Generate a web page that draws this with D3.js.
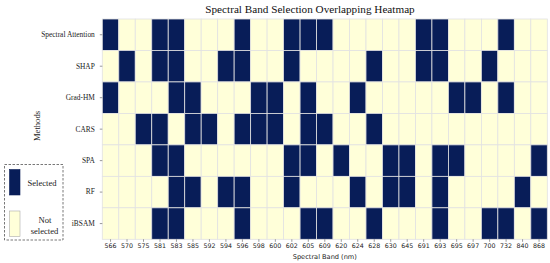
<!DOCTYPE html>
<html>
<head>
<meta charset="utf-8">
<script src="https://cdn.jsdelivr.net/npm/d3@7"></script>
<style>
  html, body { margin: 0; padding: 0; background: #ffffff; }
  svg { display: block; }
</style>
</head>
<body>
<svg id="chart" width="550" height="263"></svg>
<script>
// ---- Data ----
const methods = ["Spectral Attention", "SHAP", "Grad-HM", "CARS", "SPA", "RF", "iBSAM"];
const bands = ["566","570","575","581","583","585","592","594","596","598","600","602","605","609",
               "620","624","628","630","645","691","693","695","697","700","732","840","868"];
const selSpectralAttention = ["566","581","583","596","602","605","609","691","693","732"];
const selSHAP = ["570","581","583","594","596","602","628","691","693","700"];
const selGradHM = ["566","583","585","598","600","605","624","695","697","732"];
const selCARS = ["575","581","585","592","596","598","600","605","609","628"];
const selSPA = ["581","583","602","605","620","630","645","693","695","868"];
const selRF = ["583","585","594","596","602","624","630","645","693","840"];
const selIBSAM = ["581","583","596","605","609","628","693","700","732","868"];
const selections = [selSpectralAttention, selSHAP, selGradHM, selCARS, selSPA, selRF, selIBSAM];
const legendLabels = [["Selected"], ["Not", "selected"]];

// ---- Layout ----
const svg = d3.select("#chart");
const mLeft = 102.3, mRight = 547.3, mTop = 19, mBottom = 239.3;

const x = d3.scaleBand().domain(bands).range([mLeft, mRight]).padding(0);
const y = d3.scaleBand().domain(methods).range([mTop, mBottom]).padding(0);
const color = d3.scaleOrdinal().domain([1, 0]).range(["#081d58", "#ffffd9"]);

const cells = [];
methods.forEach((m, i) => {
  const s = new Set(selections[i]);
  bands.forEach(b => cells.push({ m, b, v: s.has(b) ? 1 : 0 }));
});

svg.append("g").selectAll("rect").data(cells).join("rect")
  .attr("x", d => x(d.b))
  .attr("y", d => y(d.m))
  .attr("width", x.bandwidth())
  .attr("height", y.bandwidth())
  .attr("fill", d => color(d.v))
  .attr("stroke", "#e2e2e2")
  .attr("stroke-width", 0.8);

// Title
svg.append("text")
  .attr("x", 310).attr("y", 13)
  .attr("text-anchor", "middle")
  .attr("font-family", "Liberation Serif, Times New Roman, serif")
  .attr("font-size", 11.2)
  .attr("fill", "#111")
  .text("Spectral Band Selection Overlapping Heatmap");

// X axis
const xAxis = svg.append("g")
  .attr("transform", `translate(0,${mBottom})`)
  .call(d3.axisBottom(x).tickSize(2.5).tickPadding(2));
xAxis.select(".domain").remove();
xAxis.selectAll(".tick line").attr("stroke", "#555").attr("stroke-width", 0.6);
xAxis.selectAll(".tick text")
  .attr("font-family", "DejaVu Sans, sans-serif")
  .attr("font-size", 6.3)
  .attr("fill", "#222");

svg.append("text")
  .attr("x", (mLeft + mRight) / 2).attr("y", 258.5)
  .attr("text-anchor", "middle")
  .attr("font-family", "DejaVu Sans, sans-serif")
  .attr("font-size", 6.6)
  .attr("fill", "#222")
  .text("Spectral Band (nm)");

// Y axis
const yAxis = svg.append("g")
  .attr("transform", `translate(${mLeft},0)`)
  .call(d3.axisLeft(y).tickSize(2.5).tickPadding(5));
yAxis.select(".domain").remove();
yAxis.selectAll(".tick line").attr("stroke", "#555").attr("stroke-width", 0.6);
yAxis.selectAll(".tick text")
  .attr("font-family", "Liberation Serif, Times New Roman, serif")
  .attr("font-size", 7.4)
  .attr("fill", "#222");

svg.append("text")
  .attr("transform", `translate(40,126) rotate(-90)`)
  .attr("text-anchor", "middle")
  .attr("font-family", "Liberation Serif, Times New Roman, serif")
  .attr("font-size", 8.6)
  .attr("fill", "#222")
  .text("Methods");

// Legend
const lg = svg.append("g");
lg.append("rect")
  .attr("x", 4.5).attr("y", 164.5).attr("width", 58.5).attr("height", 75.5)
  .attr("fill", "none").attr("stroke", "#555").attr("stroke-width", 0.8)
  .attr("stroke-dasharray", "2.5,1.5");
const swY = [169.5, 211];
[1, 0].forEach((v, i) => {
  lg.append("rect")
    .attr("x", 9.5).attr("y", swY[i]).attr("width", 10.5).attr("height", 25.5)
    .attr("fill", color(v)).attr("stroke", v ? "#081d58" : "#aaa").attr("stroke-width", 0.6);
});
const lt = lg.append("g")
  .attr("font-family", "Liberation Serif, Times New Roman, serif")
  .attr("font-size", 8.6)
  .attr("fill", "#222")
  .attr("text-anchor", "middle");
lt.append("text").attr("x", 42).attr("y", 185.5).text(legendLabels[0][0]);
lt.append("text").attr("x", 45).attr("y", 222.5).text(legendLabels[1][0]);
lt.append("text").attr("x", 44.5).attr("y", 234).text(legendLabels[1][1]);
</script>
</body>
</html>
